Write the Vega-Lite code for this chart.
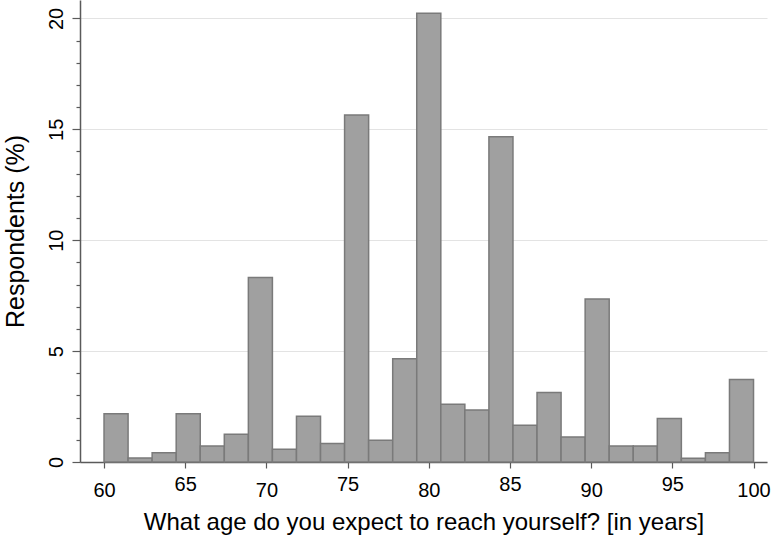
{
  "$schema": "https://vega.github.io/schema/vega-lite/v6.json",
  "width": 687,
  "height": 462,
  "autosize": {"type": "none"},
  "padding": {"left": 80, "top": 0, "right": 7, "bottom": 76},
  "background": "white",
  "config": {
    "view": {"stroke": null},
    "font": "Liberation Sans",
    "axis": {
      "domainColor": "#5a5a5a",
      "domainWidth": 1.5,
      "tickColor": "#5a5a5a",
      "tickWidth": 1.2,
      "labelColor": "#000000",
      "titleColor": "#000000",
      "labelFont": "Liberation Sans",
      "titleFont": "Liberation Sans",
      "titleFontWeight": "normal"
    }
  },
  "data": {
    "values": [
      {"start": 60.000, "end": 61.481, "pct": 2.18},
      {"start": 61.481, "end": 62.963, "pct": 0.18},
      {"start": 62.963, "end": 64.444, "pct": 0.42},
      {"start": 64.444, "end": 65.926, "pct": 2.18},
      {"start": 65.926, "end": 67.407, "pct": 0.72},
      {"start": 67.407, "end": 68.889, "pct": 1.25},
      {"start": 68.889, "end": 70.370, "pct": 8.32},
      {"start": 70.370, "end": 71.852, "pct": 0.57},
      {"start": 71.852, "end": 73.333, "pct": 2.06},
      {"start": 73.333, "end": 74.815, "pct": 0.83},
      {"start": 74.815, "end": 76.296, "pct": 15.64},
      {"start": 76.296, "end": 77.778, "pct": 0.98},
      {"start": 77.778, "end": 79.259, "pct": 4.65},
      {"start": 79.259, "end": 80.741, "pct": 20.23},
      {"start": 80.741, "end": 82.222, "pct": 2.60},
      {"start": 82.222, "end": 83.704, "pct": 2.35},
      {"start": 83.704, "end": 85.185, "pct": 14.66},
      {"start": 85.185, "end": 86.667, "pct": 1.66},
      {"start": 86.667, "end": 88.148, "pct": 3.13},
      {"start": 88.148, "end": 89.630, "pct": 1.13},
      {"start": 89.630, "end": 91.111, "pct": 7.35},
      {"start": 91.111, "end": 92.593, "pct": 0.72},
      {"start": 92.593, "end": 94.074, "pct": 0.72},
      {"start": 94.074, "end": 95.556, "pct": 1.96},
      {"start": 95.556, "end": 97.037, "pct": 0.17},
      {"start": 97.037, "end": 98.519, "pct": 0.42},
      {"start": 98.519, "end": 100.000, "pct": 3.72}
    ]
  },
  "mark": {"type": "bar", "fill": "#a0a0a0", "stroke": "#7a7a7a", "strokeWidth": 1.5},
  "encoding": {
    "x": {
      "field": "start",
      "type": "quantitative",
      "scale": {"domain": [58.52, 100.83], "nice": false, "zero": false},
      "axis": {
        "values": [60, 65, 70, 75, 80, 85, 90, 95, 100],
        "format": "d",
        "grid": false,
        "labelFontSize": 20,
        "labelFlush": false,
        "labelOverlap": false,
        "tickSize": 6,
        "labelPadding": 6,
        "labelLineHeight": 32,
        "labelBaseline": {"condition": {"test": "datum.value % 10 == 0", "value": "line-top"}, "value": "top"},
        "title": "What age do you expect to reach yourself? [in years]",
        "titleFontSize": 24,
        "titleBaseline": "alphabetic",
        "titleY": 67
      }
    },
    "x2": {"field": "end"},
    "y": {
      "field": "pct",
      "type": "quantitative",
      "scale": {"domain": [0, 20.83], "nice": false},
      "axis": {
        "values": [0, 1, 2, 3, 4, 5, 6, 7, 8, 9, 10, 11, 12, 13, 14, 15, 16, 17, 18, 19, 20],
        "labelExpr": "datum.value % 5 == 0 ? datum.label : ''",
        "labelAngle": -90,
        "labelAlign": "center",
        "labelBaseline": "bottom",
        "labelFontSize": 20,
        "labelPadding": 6,
        "labelOverlap": false,
        "tickSize": {"condition": {"test": "datum.value % 5 == 0", "value": 8}, "value": 4},
        "grid": true,
        "gridColor": "#e3e3e3",
        "gridWidth": 1,
        "gridOpacity": {"condition": {"test": "datum.value % 5 == 0", "value": 1}, "value": 0},
        "title": "Respondents (%)",
        "titleFontSize": 25,
        "titleAngle": -90,
        "titleBaseline": "alphabetic",
        "titleX": -57
      }
    },
    "y2": {"datum": 0}
  }
}
